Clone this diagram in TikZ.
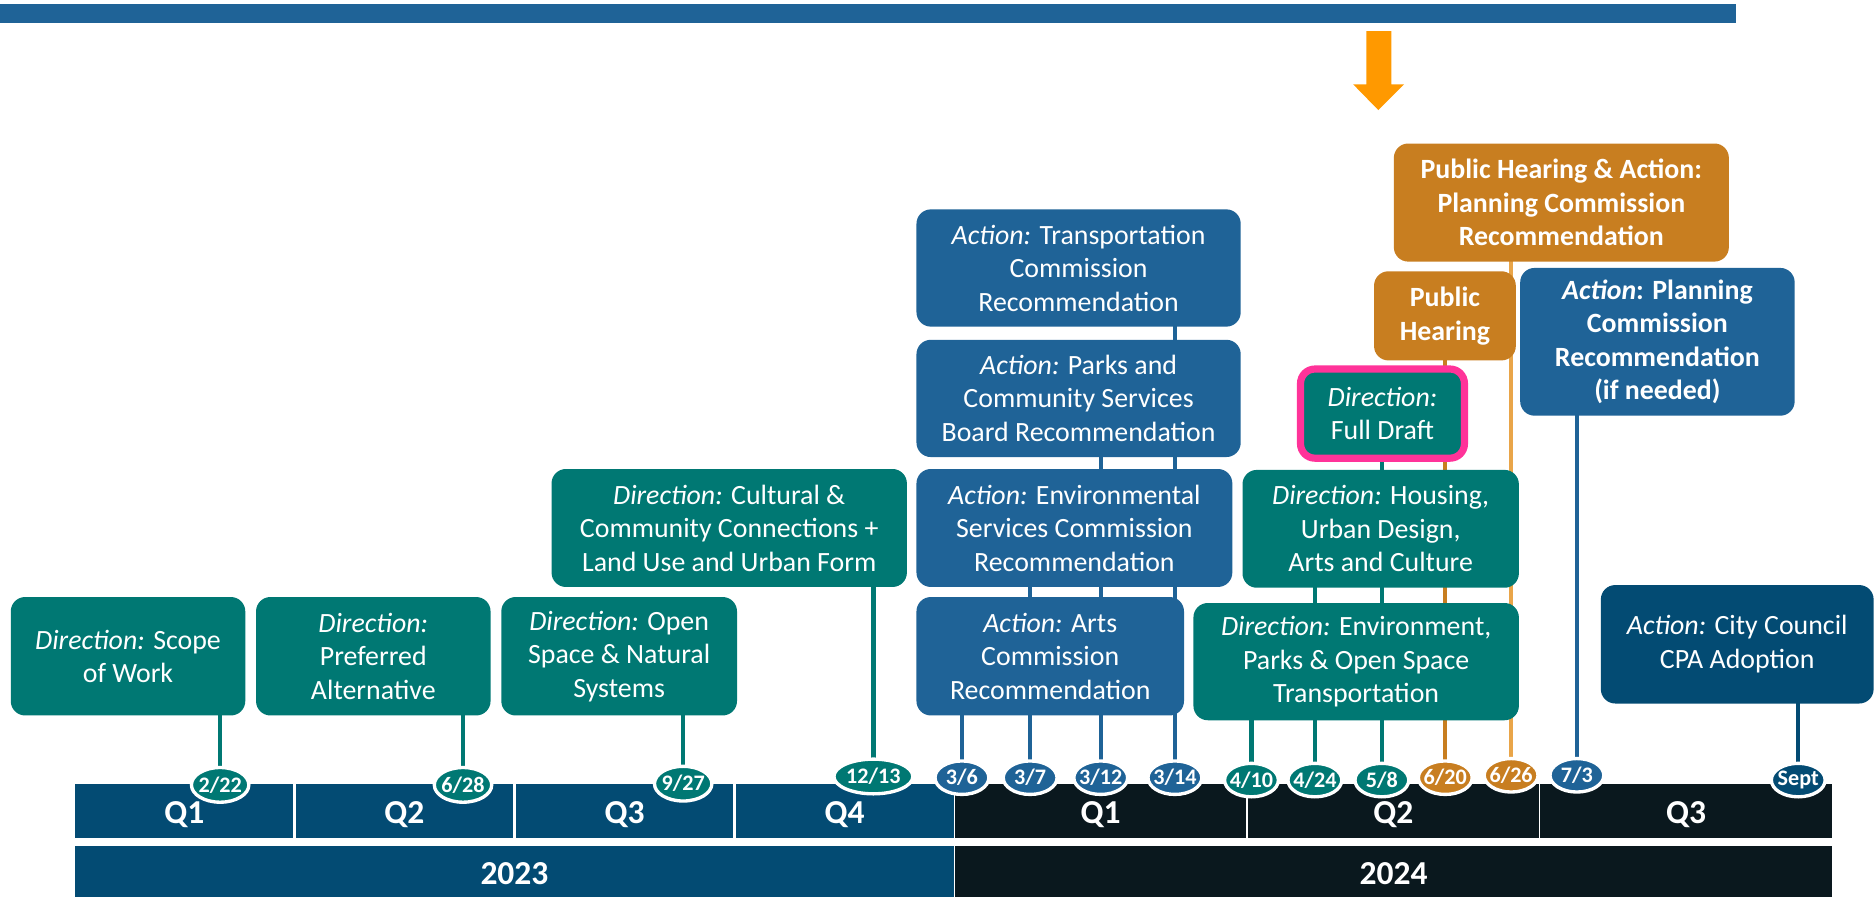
\documentclass[tikz,border=0pt]{standalone}
\usepackage{fontspec}
\setmainfont{Carlito}
\usetikzlibrary{shapes.geometric,backgrounds}
\definecolor{cteal}{HTML}{007873}
\definecolor{cblue}{HTML}{1F6397}
\definecolor{cdark}{HTML}{034B73}
\definecolor{corange}{HTML}{C87E20}
\definecolor{clight}{HTML}{E9A549}
\definecolor{cblack}{HTML}{0A181E}
\definecolor{cpink}{HTML}{FF3399}
\definecolor{carrow}{HTML}{FF9900}
\newcommand{\dtxt}[1]{\makebox[0pt]{#1}}
\begin{document}
\begin{tikzpicture}[x=1pt,y=-1pt,
  box/.style={rectangle, rounded corners=12pt, inner sep=0pt, align=center, text=white,
    font=\fontsize{23.3}{28}\selectfont},
  datev/.style={ellipse, draw=white, line width=2.8pt, inner sep=0pt, minimum width=45pt,
    minimum height=28pt, text=white, font=\fontsize{18.5}{18.5}\selectfont\bfseries},
  bar/.style={rectangle, inner sep=0pt, draw=none},
  barlab/.style={inner sep=0pt, text=white, font=\fontsize{28}{28}\selectfont\bfseries},
  conn/.style={line width=3.6pt}
]
\useasboundingbox (0,0) rectangle (1568,751);

% top bar and arrow
\fill[cblue] (0,3.3) rectangle (1450.7,19);
\fill[carrow] (1142,26) -- (1163,26) -- (1163,70.5) -- (1173.5,70.5) -- (1152,92)
  -- (1131,70.5) -- (1142,70.5) -- cycle;

% quarter bars
\node[bar, fill=cdark, minimum width=182pt, minimum height=45pt] (b23q1) at (154,677.5) {};
\node[bar, fill=cdark, minimum width=182pt, minimum height=45pt] (b23q2) at (338,677.5) {};
\node[bar, fill=cdark, minimum width=182pt, minimum height=45pt] (b23q3) at (522,677.5) {};
\node[bar, fill=cdark, minimum width=182pt, minimum height=45pt] (b23q4) at (706,677.5) {};
\node[bar, fill=cblack, minimum width=243pt, minimum height=45pt] (b24q1) at (920,677.5) {};
\node[bar, fill=cblack, minimum width=243pt, minimum height=45pt] (b24q2) at (1164.5,677.5) {};
\node[bar, fill=cblack, minimum width=243.5pt, minimum height=45pt] (b24q3) at (1409.25,677.5) {};
\node[bar, fill=cdark, minimum width=734pt, minimum height=43pt] (y23) at (430,728.5) {};
\node[bar, fill=cblack, minimum width=732.5pt, minimum height=43pt] (y24) at (1164.75,728.5) {};

\node[barlab] (l23q1) at (b23q1.center |- 0,681) {Q1};
\node[barlab] (l23q2) at (b23q2.center |- 0,681) {Q2};
\node[barlab] (l23q3) at (b23q3.center |- 0,681) {Q3};
\node[barlab] (l23q4) at (b23q4.center |- 0,681) {Q4};
\node[barlab] (l24q1) at (b24q1.center |- 0,681) {Q1};
\node[barlab] (l24q2) at (b24q2.center |- 0,681) {Q2};
\node[barlab] (l24q3) at (b24q3.center |- 0,681) {Q3};
\node[barlab] (ly23) at (y23.center |- 0,730) {2023};
\node[barlab] (ly24) at (y24.center |- 0,730) {2024};

% boxes
\node[box, fill=cteal, minimum width=196pt, minimum height=99pt] (scope) at (107,548.5)
  {\textit{Direction:} Scope\\of Work};
\node[box, fill=cteal, minimum width=196pt, minimum height=99pt] (pref) at (312,548.5)
  {\textit{Direction:}\\Preferred\\Alternative};
\node[box, fill=cteal, minimum width=197pt, minimum height=99pt] (open) at (517.5,548.5)
  {\textit{Direction:} Open\\Space \& Natural\\Systems};
\node[box, fill=cteal, minimum width=297pt, minimum height=98.6pt] (cult) at (609.5,441.3)
  {\textit{Direction:} Cultural \&\\Community Connections +\\Land Use and Urban Form};
\node[box, fill=cblue, minimum width=271pt, minimum height=98pt] (trans) at (901.5,224)
  {\textit{Action:} Transportation\\Commission\\Recommendation};
\node[box, fill=cblue, minimum width=271pt, minimum height=98pt] (parks) at (901.5,333)
  {\textit{Action:} Parks and\\Community Services\\Board Recommendation};
\node[box, fill=cblue, minimum width=264pt, minimum height=98.6pt] (envs) at (898,441.3)
  {\textit{Action:} Environmental\\Services Commission\\Recommendation};
\node[box, fill=cblue, minimum width=223.6pt, minimum height=99pt] (arts) at (877.8,548.5)
  {\textit{Action:} Arts\\Commission\\Recommendation};
\node[box, fill=cteal, minimum width=272pt, minimum height=98pt] (envd) at (1133.5,553)
  {\textit{Direction:} Environment,\\Parks \& Open Space\\Transportation};
\node[box, fill=cteal, minimum width=231pt, minimum height=98.5pt] (hous) at (1154,442)
  {\textit{Direction:} Housing,\\Urban Design,\\Arts and Culture};
\node[box, fill=cteal, draw=cpink, line width=6pt, minimum width=137pt, minimum height=74.5pt]
  (fdraft) at (1155.5,345.7) {\textit{Direction:}\\Full Draft};
\node[box, fill=corange, font=\fontsize{23.3}{28}\selectfont\bfseries, minimum width=118.5pt,
  minimum height=74.5pt] (ph) at (1207.7,264) {Public\\Hearing};
\node[box, fill=corange, font=\fontsize{23.3}{28}\selectfont\bfseries, minimum width=280pt,
  minimum height=98.7pt] (pha) at (1305,169.3)
  {Public Hearing \& Action:\\Planning Commission\\Recommendation};
\node[box, fill=cblue, font=\fontsize{23.3}{28}\selectfont\bfseries, minimum width=229.4pt,
  minimum height=123.5pt] (pcn) at (1385.3,285.7)
  {\textit{Action}: Planning\\Commission\\Recommendation\\(if needed)};
\node[box, fill=cdark, minimum width=228pt, minimum height=99pt] (cc) at (1452,538.5)
  {\textit{Action:} City Council\\CPA Adoption};

% date ovals
\node[datev, fill=cteal, minimum width=48pt, minimum height=29pt] (d222) at (184,656) {\dtxt{2/22}};
\node[datev, fill=cteal, minimum width=48pt, minimum height=29pt] (d628) at (387,656) {\dtxt{6/28}};
\node[datev, fill=cteal, minimum width=48pt, minimum height=29pt] (d927) at (571,655) {\dtxt{9/27}};
\node[datev, fill=cteal, minimum width=66pt, minimum height=29pt] (d1213) at (730,649) {\dtxt{12/13}};
\node[datev, fill=cblue] (d36) at (804,650) {\dtxt{3/6}};
\node[datev, fill=cblue] (d37) at (861,650) {\dtxt{3/7}};
\node[datev, fill=cblue] (d312) at (920,650) {\dtxt{3/12}};
\node[datev, fill=cblue] (d314) at (982,650) {\dtxt{3/14}};
\node[datev, fill=cteal] (d410) at (1046,652) {\dtxt{4/10}};
\node[datev, fill=cteal] (d424) at (1099,652) {\dtxt{4/24}};
\node[datev, fill=cteal] (d58) at (1155,652) {\dtxt{5/8}};
\node[datev, fill=corange] (d620) at (1208,650) {\dtxt{6/20}};
\node[datev, fill=corange] (d626) at (1263,648) {\dtxt{6/26}};
\node[datev, fill=cblue] (d73) at (1318,648) {\dtxt{7/3}};
\node[datev, fill=cdark] (dsept) at (1503,652) {\dtxt{Sept}};

% connectors
\begin{scope}[on background layer]
\draw[conn, cteal] (scope.center -| d222) -- (d222.center);
\draw[conn, cteal] (pref.center -| d628) -- (d628.center);
\draw[conn, cteal] (open.center -| d927) -- (d927.center);
\draw[conn, cteal] (cult.center -| d1213) -- (d1213.center);
\draw[conn, cblue] (trans.center -| d314) -- (d314.center);
\draw[conn, cblue] (parks.center -| d312) -- (d312.center);
\draw[conn, cblue] (envs.center -| d37) -- (d37.center);
\draw[conn, cblue] (arts.center -| d36) -- (d36.center);
\draw[conn, cteal] (envd.center -| d410) -- (d410.center);
\draw[conn, cteal] (hous.center -| d424) -- (d424.center);
\draw[conn, cteal] (fdraft.center -| d58) -- (d58.center);
\draw[conn, corange] (ph.center -| d620) -- (d620.center);
\draw[conn, clight] (pha.center -| d626) -- (d626.center);
\draw[conn, cblue] (pcn.center -| d73) -- (d73.center);
\draw[conn, cdark] (cc.center -| dsept) -- (dsept.center);
\end{scope}
\end{tikzpicture}
\end{document}
